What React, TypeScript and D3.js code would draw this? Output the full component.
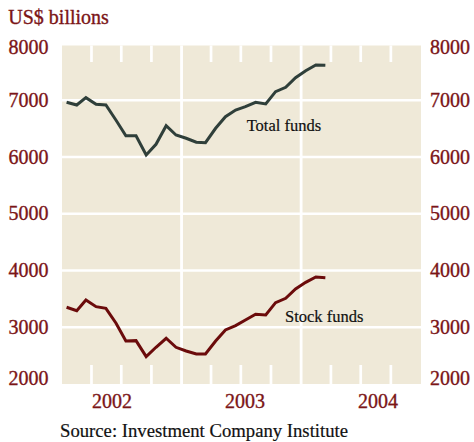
import React from "react";
import * as d3 from "d3";

const months: string[] = [
  "2002-01", "2002-02", "2002-03", "2002-04", "2002-05", "2002-06", "2002-07", "2002-08", "2002-09",
  "2002-10", "2002-11", "2002-12", "2003-01", "2003-02", "2003-03", "2003-04", "2003-05", "2003-06",
  "2003-07", "2003-08", "2003-09", "2003-10", "2003-11", "2003-12", "2004-01", "2004-02", "2004-03",
];
const totalFunds: number[] = [
  6964, 6916, 7045, 6929, 6916, 6647, 6375, 6375, 6035, 6224, 6552, 6388, 6330, 6260,
  6252, 6506, 6710, 6828, 6886, 6964, 6934, 7151, 7228, 7397, 7521, 7621, 7616,
];
const stockFunds: number[] = [
  3352, 3292, 3480, 3363, 3334, 3070, 2758, 2764, 2482, 2647, 2806, 2647, 2581, 2530,
  2529, 2758, 2952, 3028, 3128, 3229, 3216, 3433, 3511, 3674, 3792, 3885, 3873,
];
const yTicks: number[] = [2000, 3000, 4000, 5000, 6000, 7000, 8000];
const years: number[] = [2002, 2003, 2004];
const title = "US$ billions";
const source = "Source: Investment Company Institute";
const seriesLabels = ["Total funds", "Stock funds"];

const W = 474;
const H = 442;
const left = 62;
const right = 421;
const top = 45.5;
const bottom = 384;
const red = "#7b1517";
const bg = "#efe9d8";
const font = "'Liberation Serif', 'Times New Roman', serif";

export default function App() {
  const parse = d3.timeParse("%Y-%m");
  const dates = months.map((m) => d3.timeDay.offset(parse(m) as Date, 14));
  const x = d3.scaleTime().domain([new Date(2002, 0, 1), new Date(2005, 0, 1)]).range([left, right]);
  const y = d3.scaleLinear().domain([2000, 8000]).range([384, 43.5]);
  const yearLabelX = d3.scaleLinear().domain([2002, 2004]).range([112, 378]);

  const line = d3
    .line<number>()
    .x((_, i) => x(dates[i]))
    .y((d) => y(d))
    .curve(d3.curveLinear);

  const quarterTicks = d3.timeMonth
    .every(3)!
    .range(new Date(2002, 0, 1), new Date(2005, 0, 1))
    .filter((d) => d.getMonth() !== 0);
  const yearLines = [new Date(2003, 0, 1), new Date(2004, 0, 1)];

  const labelY = (v: number) => Math.min(378, Math.max(47.3, y(v))) + 6.7;

  return (
    <svg
      width={W}
      height={H}
      style={{ position: "absolute", left: 0, top: 0, background: "#fff" }}
      fontFamily={font}
    >
      <rect x={left} y={top} width={right - left} height={bottom - top} fill={bg} />
      {yTicks
        .filter((v) => v > 2000 && v < 8000)
        .map((v) => (
          <line key={v} x1={left} x2={right} y1={y(v)} y2={y(v)} stroke="#fff" strokeWidth={2.7} />
        ))}
      {yearLines.map((d, i) => (
        <line key={i} x1={x(d)} x2={x(d)} y1={top} y2={bottom} stroke="#fff" strokeWidth={2.8} />
      ))}
      {quarterTicks.map((d, i) => (
        <g key={i}>
          <line x1={x(d)} x2={x(d)} y1={top} y2={top + 16.5} stroke="#fff" strokeWidth={2.7} />
          <line x1={x(d)} x2={x(d)} y1={bottom - 19} y2={bottom} stroke="#fff" strokeWidth={2.7} />
        </g>
      ))}
      <path d={line(totalFunds) || ""} fill="none" stroke="#2f3f3a" strokeWidth={3} strokeLinejoin="miter" />
      <path d={line(stockFunds) || ""} fill="none" stroke="#6b0b0b" strokeWidth={3} strokeLinejoin="miter" />
      <g fill={red} stroke={red} strokeWidth={0.35}>
        {yTicks.map((v) => (
          <g key={v} fontSize={20}>
            <text x={48.5} y={labelY(v)} textAnchor="end">
              {v}
            </text>
            <text x={430} y={labelY(v)} textAnchor="start">
              {v}
            </text>
          </g>
        ))}
        {years.map((yr) => (
          <text key={yr} x={yearLabelX(yr)} y={408.3} textAnchor="middle" fontSize={20}>
            {yr}
          </text>
        ))}
        <text x={8.3} y={24} fontSize={20}>
          {title}
        </text>
      </g>
      <g fill="#111" stroke="#111" strokeWidth={0.2}>
        <text x={246.7} y={130.7} fontSize={16.5}>
          {seriesLabels[0]}
        </text>
        <text x={285} y={321.7} fontSize={16.5}>
          {seriesLabels[1]}
        </text>
        <text x={60} y={437.4} fontSize={18.7}>
          {source}
        </text>
      </g>
    </svg>
  );
}
